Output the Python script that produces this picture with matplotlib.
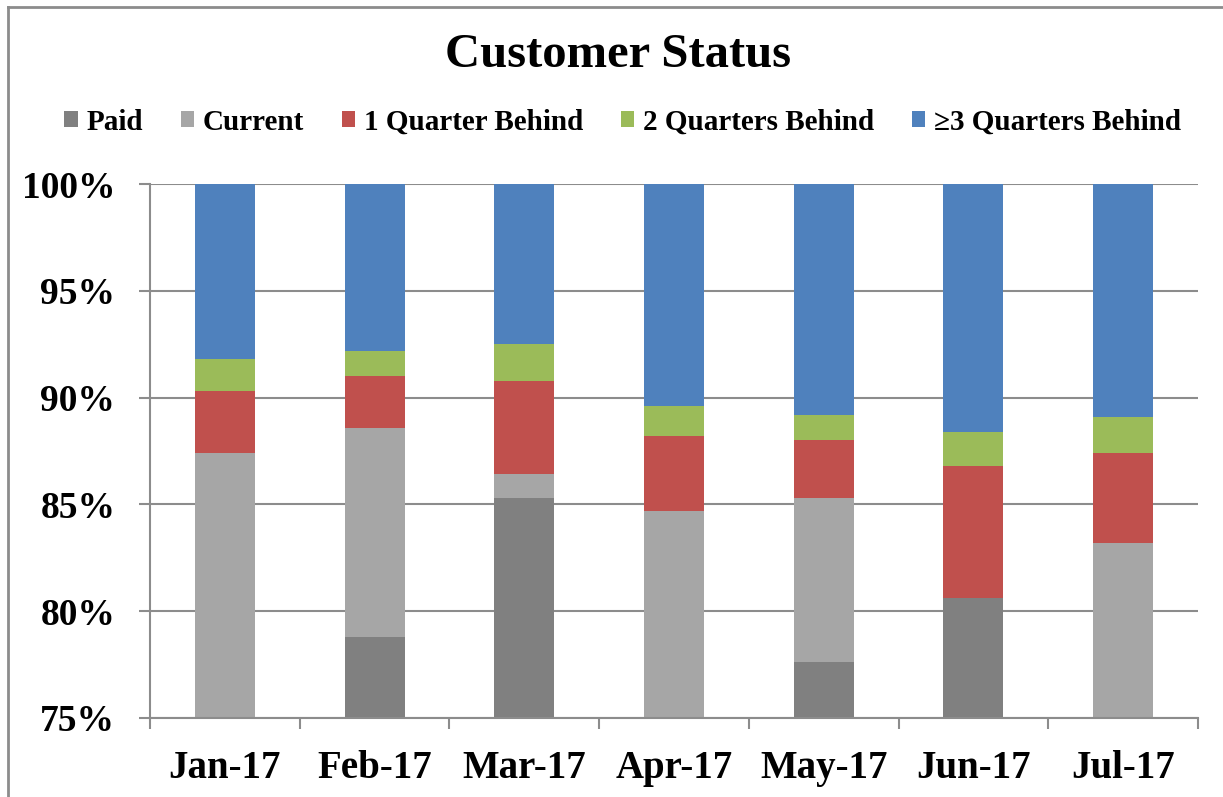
import matplotlib
matplotlib.use("Agg")
import matplotlib.pyplot as plt
import numpy as np

months = ["Jan-17", "Feb-17", "Mar-17", "Apr-17", "May-17", "Jun-17", "Jul-17"]
series_names = ["Paid", "Current", "1 Quarter Behind", "2 Quarters Behind", "\u22653 Quarters Behind"]
paid = [0.0, 78.8, 85.3, 0.0, 77.6, 80.6, 0.0]
current = [87.4, 9.8, 1.1, 84.7, 7.7, 0.0, 83.2]
q1 = [2.9, 2.4, 4.4, 3.5, 2.7, 6.2, 4.2]
q2 = [1.5, 1.2, 1.7, 1.4, 1.2, 1.6, 1.7]
q3 = [8.2, 7.8, 7.5, 10.4, 10.8, 11.6, 10.9]
colors = ["#808080", "#A6A6A6", "#C0504D", "#9BBB59", "#4F81BD"]

plt.rcParams['font.family'] = ['Liberation Serif', 'DejaVu Serif']
plt.rcParams['font.weight'] = 'bold'

W, H = 1223, 797
fig = plt.figure(figsize=(W / 100, H / 100), dpi=100)
ax = fig.add_axes([150 / W, (H - 718) / H, 1048 / W, 534 / H])

x = np.arange(len(months))
bottom = np.zeros(len(months))
handles = []
for name, vals, c in zip(series_names, [paid, current, q1, q2, q3], colors):
    v = np.array(vals)
    b = ax.bar(x, v, 0.4, bottom=bottom, color=c, label=name, zorder=2)
    handles.append(b)
    bottom += v

ax.set_xlim(-0.5, len(months) - 0.5)
ax.set_ylim(75, 100)
ax.set_yticks(np.arange(75, 101, 5))
ax.set_yticklabels([f"{t}%" for t in range(75, 101, 5)])
ax.yaxis.grid(True, color="#8c8c8c", linewidth=1.5, zorder=0)
ax.set_axisbelow(True)

ax.set_xticks(x)
ax.set_xticklabels(months)
ax.set_xticks(np.arange(-0.5, len(months), 1), minor=True)
ax.tick_params(axis="x", which="major", length=0, pad=23, labelsize=28)
ax.tick_params(axis="x", which="minor", length=8, width=1.5, color="#8c8c8c", direction="out")
ax.tick_params(axis="y", length=8, width=1.5, color="#8c8c8c", pad=17, labelsize=27)

for s in ["top", "right"]:
    ax.spines[s].set_visible(False)
for s in ["left", "bottom"]:
    ax.spines[s].set_color("#8c8c8c")
    ax.spines[s].set_linewidth(1.5)

fig.text(0.505, 1 - 55 / H, "Customer Status", ha="center", va="center", fontsize=35, fontweight="bold")

fig.legend(handles=handles, labels=series_names, loc="center", bbox_to_anchor=(0.509, 1 - 122 / H),
           ncol=5, frameon=False, fontsize=21, handlelength=0.45, handleheight=0.45,
           handletextpad=0.3, columnspacing=1.3, borderaxespad=0)

# outer chart border (left and top)
fig.add_artist(plt.Line2D([7.5 / W, 7.5 / W], [0, 1 - 6.5 / H], color="#8c8c8c", linewidth=2, transform=fig.transFigure))
fig.add_artist(plt.Line2D([7.5 / W, 1], [1 - 6.5 / H, 1 - 6.5 / H], color="#8c8c8c", linewidth=2, transform=fig.transFigure))

fig.savefig("out.png", dpi=100)
